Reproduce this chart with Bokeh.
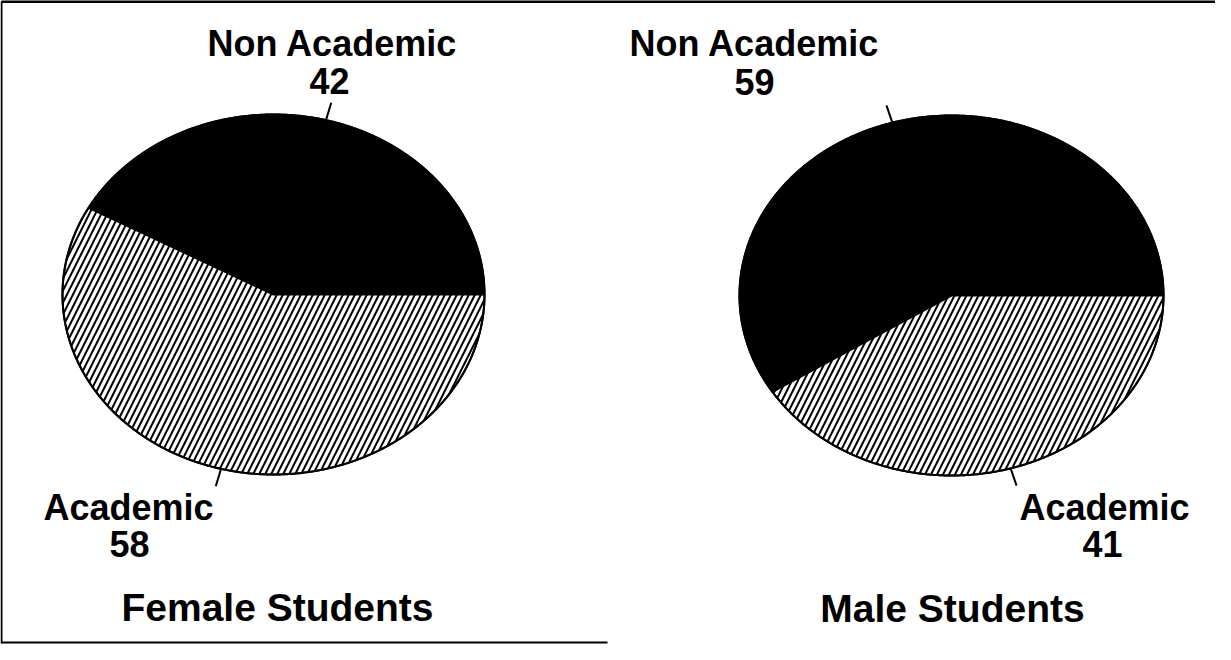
import numpy as np
from bokeh.plotting import figure
from bokeh.models import Range1d, ColumnDataSource
from bokeh.core.properties import value
from bokeh.embed import file_html
from bokeh.resources import INLINE

# ---- data ----
categories = ["Non Academic", "Academic"]
female_values = [42, 58]
male_values = [59, 41]
pie_titles = ["Female Students", "Male Students"]

# ---- layout / style ----
W, H = 1215, 644
FONT = "Liberation Sans"
LABEL_SIZE = "36px"
TITLE_SIZE = "39px"
TDY = -12  # text baseline correction
slice_fill = ["black", "white"]
slice_hatch = [None, "/"]

pies = [
    dict(values=female_values, title=pie_titles[0], cx=281, cy=302, rx=211, ry=180,
         name_xy=[(340, 63), (136, 527)], val_xy=[(337, 100), (137, 563)],
         title_xy=(285, 627)),
    dict(values=male_values, title=pie_titles[1], cx=959, cy=303, rx=212, ry=180,
         name_xy=[(762, 63), (1112, 527)], val_xy=[(762, 101), (1110, 563)],
         title_xy=(960, 628)),
]

p = figure(width=W, height=H, output_backend="svg", toolbar_location=None,
           x_range=Range1d(8, 8 + W), y_range=Range1d(8 + H, 8), min_border=0)
p.axis.visible = False
p.grid.visible = False
p.outline_line_color = None
p.background_fill_color = "white"
p.border_fill_color = "white"

for pie in pies:
    vals = np.array(pie["values"], dtype=float)
    frac = vals / vals.sum()
    cum = np.concatenate([[0], np.cumsum(frac)]) * 2 * np.pi
    cx, cy, rx, ry = pie["cx"], pie["cy"], pie["rx"], pie["ry"]
    for i in range(len(vals)):
        t = np.linspace(cum[i], cum[i + 1], 300)
        xs = np.concatenate([[cx], cx + rx * np.cos(t), [cx]])
        ys = np.concatenate([[cy], cy - ry * np.sin(t), [cy]])
        kw = dict(fill_color=slice_fill[i], line_color="black", line_width=2)
        if slice_hatch[i]:
            kw.update(hatch_pattern=slice_hatch[i], hatch_color="black",
                      hatch_scale=12, hatch_weight=2)
        p.patch(xs, ys, **kw)
        # radial leader tick at mid angle
        mid = (cum[i] + cum[i + 1]) / 2
        r0, r1 = 1.0, 1.1
        p.line([cx + rx * r0 * np.cos(mid), cx + rx * r1 * np.cos(mid)],
               [cy - ry * r0 * np.sin(mid), cy - ry * r1 * np.sin(mid)],
               line_color="black", line_width=2)
    # full ellipse outline
    t = np.linspace(0, 2 * np.pi, 600)
    p.line(cx + rx * np.cos(t), cy - ry * np.sin(t), line_color="black", line_width=2)

    names = ColumnDataSource(dict(x=[a for a, b in pie["name_xy"]],
                                  y=[b + TDY for a, b in pie["name_xy"]],
                                  text=categories))
    p.text(x="x", y="y", text="text", source=names, text_font=value(FONT),
           text_font_style="bold", text_font_size=LABEL_SIZE,
           text_align="center", text_baseline="alphabetic", text_color="black")
    nums = ColumnDataSource(dict(x=[a for a, b in pie["val_xy"]],
                                 y=[b + TDY for a, b in pie["val_xy"]],
                                 text=[str(v) for v in pie["values"]]))
    p.text(x="x", y="y", text="text", source=nums, text_font=value(FONT),
           text_font_style="bold", text_font_size=LABEL_SIZE,
           text_align="center", text_baseline="alphabetic", text_color="black")
    p.text(x=[pie["title_xy"][0]], y=[pie["title_xy"][1] + TDY], text=[pie["title"]],
           text_font=value(FONT), text_font_style="bold", text_font_size=TITLE_SIZE,
           text_align="center", text_baseline="alphabetic", text_color="black")

# frame lines (scan border: top, left, bottom-left part)
p.line([9, 1223], [9, 9], line_color="black", line_width=3)
p.line([9, 9], [9, 651], line_color="black", line_width=2)
p.line([9, 615], [650, 650], line_color="black", line_width=2)

open("out.html", "w").write(file_html(p, INLINE))
